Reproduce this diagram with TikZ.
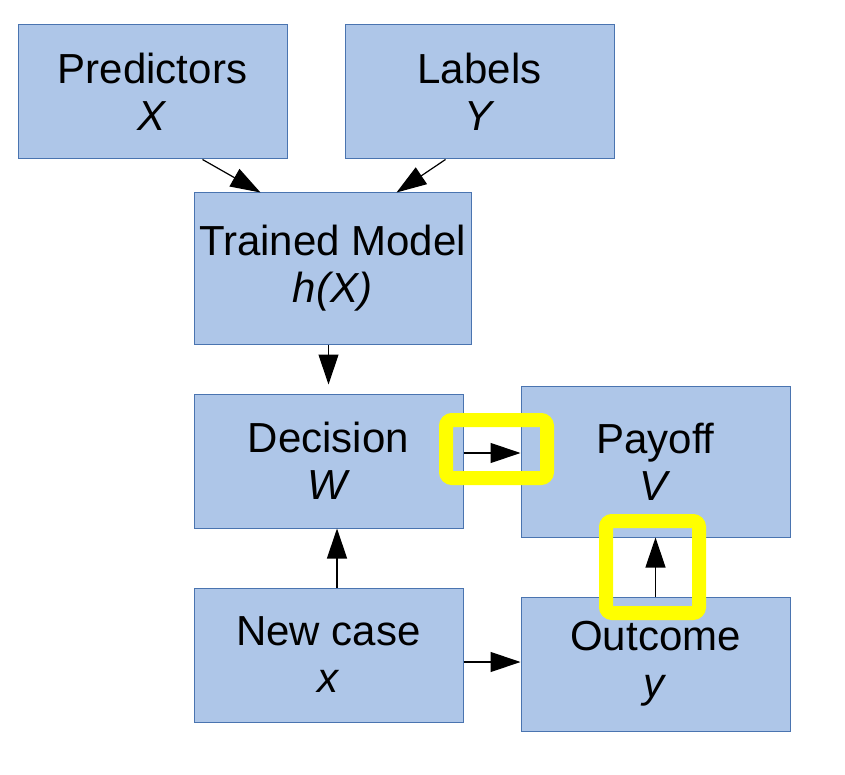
\documentclass[tikz,border=0pt]{standalone}
\usepackage{fontspec}
\setmainfont{Liberation Sans}
\usetikzlibrary{arrows.meta,calc}
\definecolor{boxfill}{RGB}{174,198,232}
\definecolor{boxline}{RGB}{74,116,176}
\definecolor{hlyellow}{RGB}{255,255,0}
\begin{document}
\begin{tikzpicture}[x=1pt,y=-1pt,
  box/.style={draw=boxline, fill=boxfill, line width=1pt, align=center, inner sep=0pt,
    font=\fontsize{42}{47}\selectfont},
  arr/.style={draw=black, line width=1.2pt, -{Triangle[length=30pt,width=20pt]}},
  hl/.style={draw=hlyellow, line width=14pt, rounded corners=6pt}]
\useasboundingbox (0,0) rectangle (845,775);
\node[box, minimum width=269pt, minimum height=134pt] (pred) at (152.5,92) {Predictors\\\textit{X}};
\node[box, minimum width=269pt, minimum height=134pt] (lab) at (479.5,92) {Labels\\\textit{Y}};
\node[box, minimum width=277pt, minimum height=151pt] (tm) at (332.5,268.5) {Trained Model\\\textit{h(X)}};
\node[box, minimum width=269pt, minimum height=134pt] (dec) at (328.5,461) {Decision\\\textit{W}};
\node[box, minimum width=269pt, minimum height=151pt] (pay) at (655.5,461.5) {Payoff\\\textit{V}};
\node[box, minimum width=269pt, minimum height=134pt] (new) at (328.5,655) {New case\\\textit{x}};
\node[box, minimum width=269pt, minimum height=134pt] (out) at (655.5,664) {Outcome\\\textit{y}};
\draw[arr] ([xshift=185pt]pred.south west) -- ([xshift=67pt]tm.north west);
\draw[arr] ([xshift=101pt]lab.south west) -- ([xshift=203pt]tm.north west);
\draw[arr, shorten >=9pt] (tm.south -| dec.north) -- (dec.north);
\draw[arr] ([yshift=8pt]dec.east) -- ([yshift=8pt]dec.east -| pay.west);
\draw[arr] (out.north) -- (out.north |- pay.south);
\draw[arr] ([xshift=8.5pt]new.north) -- ([xshift=8.5pt]dec.south);
\draw[arr] ([yshift=-7pt]new.east) -- ([yshift=-7pt]new.east -| out.west);
\draw[hl] (446,420) rectangle (547,478);
\draw[hl] (606,521) rectangle (699,613);
\end{tikzpicture}
\end{document}
